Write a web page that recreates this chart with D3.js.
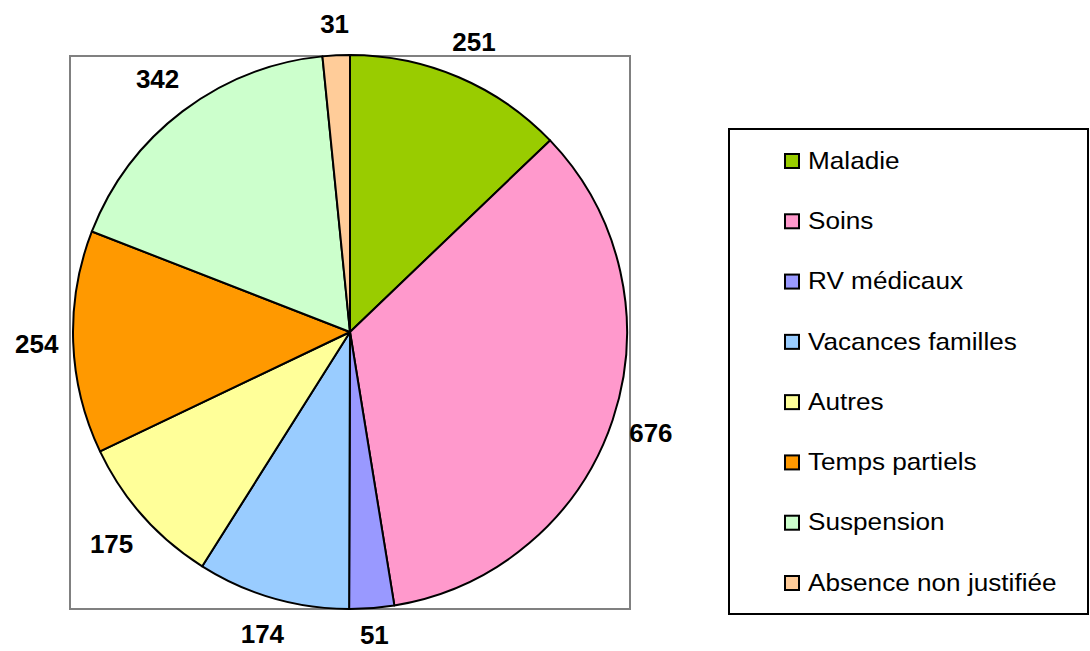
<!DOCTYPE html>
<html lang="fr">
<head>
  <meta charset="UTF-8">
  <title>Absences</title>
  <script src="https://cdn.jsdelivr.net/npm/d3@7.8.5/dist/d3.min.js"></script>
  <style>
    body { margin: 0; background: #fff; font-family: 'Liberation Sans', Arial, sans-serif; }
  </style>
</head>
<body>
  <svg id="chart"></svg>
  <script>
    // Pie data
    const categories = ["Maladie", "Soins", "RV médicaux", "Vacances familles", "Autres", "Temps partiels", "Suspension", "Absence non justifiée"];
    const values = [251, 676, 51, 174, 175, 254, 342, 31];
    const colors = ["#99CC00", "#FF99CC", "#9999FF", "#99CCFF", "#FFFF99", "#FF9900", "#CCFFCC", "#FFCC99"];

    const width = 1090, height = 651;
    const svg = d3.select("#chart").attr("width", width).attr("height", height);

    // plot area frame
    const cx = 350, cy = 332, r = 277;
    svg.append("rect")
      .attr("x", 70).attr("y", 56).attr("width", 560).attr("height", 553)
      .attr("fill", "none").attr("stroke", "#808080").attr("stroke-width", 2);

    const data = categories.map((c, i) => ({ name: c, value: values[i], color: colors[i] }));
    const pie = d3.pie().sort(null).value(d => d.value);
    const arcs = pie(data);
    const arc = d3.arc().innerRadius(0).outerRadius(r);

    const g = svg.append("g").attr("transform", `translate(${cx},${cy})`);
    g.selectAll("path")
      .data(arcs)
      .enter()
      .append("path")
      .attr("d", arc)
      .attr("fill", d => d.data.color)
      .attr("stroke", "#000")
      .attr("stroke-width", 2)
      .attr("stroke-linejoin", "round");

    // value labels outside the pie, box edge kept off the arc
    const fs = 26;
    g.selectAll("text.val")
      .data(arcs)
      .enter()
      .append("text")
      .attr("class", "val")
      .each(function (d) {
        const a = (d.startAngle + d.endAngle) / 2;
        const sx = Math.sin(a), sy = -Math.cos(a);
        const w = String(d.data.value).length * 14.6, h = 19;
        const ext = Math.abs(sx) * w / 2 + Math.abs(sy) * h / 2;
        const dist = r + 14 + 8 * Math.abs(sy) + ext;
        // keep the label inside the page
        const y = Math.min(sy * dist, height - cy - 16);
        d3.select(this)
          .attr("x", sx * dist)
          .attr("y", y)
          .attr("dy", "0.36em");
      })
      .attr("text-anchor", "middle")
      .attr("font-size", fs)
      .attr("font-weight", "bold")
      .attr("fill", "#000")
      .text(d => d.data.value);

    // legend
    const lg = svg.append("g");
    lg.append("rect")
      .attr("x", 729).attr("y", 129).attr("width", 359).attr("height", 485)
      .attr("fill", "#fff").attr("stroke", "#000").attr("stroke-width", 2);

    const rowY = d3.scalePoint().domain(categories).range([161, 583]);
    const items = lg.selectAll("g.item")
      .data(data)
      .enter()
      .append("g")
      .attr("class", "item")
      .attr("transform", d => `translate(785,${rowY(d.name)})`);
    items.append("rect")
      .attr("x", 0).attr("y", -7).attr("width", 14).attr("height", 14)
      .attr("fill", d => d.color).attr("stroke", "#000").attr("stroke-width", 2);
    items.append("text")
      .attr("transform", "translate(23,0) scale(1.09,1)")
      .attr("dy", "0.32em")
      .attr("font-size", 24)
      .attr("fill", "#000")
      .text(d => d.name);
  </script>
</body>
</html>
